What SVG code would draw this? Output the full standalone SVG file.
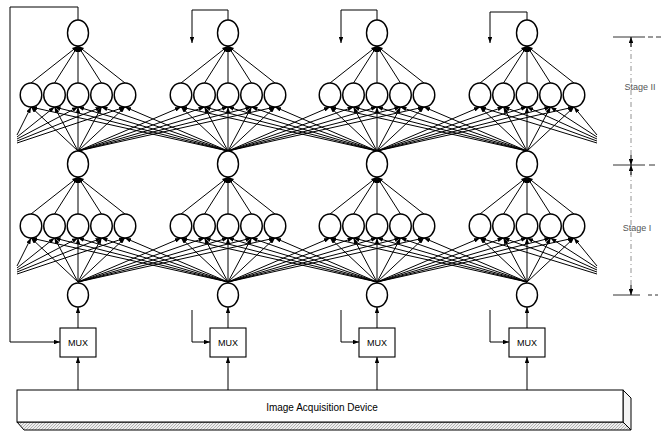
<svg xmlns="http://www.w3.org/2000/svg" xmlns:xlink="http://www.w3.org/1999/xlink" width="662" height="432" viewBox="0 0 662 432">
<style>
.c line{stroke:#000;stroke-width:1;marker-end:url(#ah);fill:none}
.n ellipse{fill:#fff;stroke:#000;stroke-width:1.4}
.fa{fill:none;stroke:#000;stroke-width:1;marker-end:url(#ah)}
.mux rect{fill:#fff;stroke:#000;stroke-width:1.1}
.t{font-family:"Liberation Sans",Arial,sans-serif;fill:#000}
.s{font-family:"Liberation Sans",Arial,sans-serif;fill:#555;font-size:9px}
.dim{stroke:#333;stroke-width:1;fill:none}
.dd{stroke:#777;stroke-width:0.8;fill:none;stroke-dasharray:5 3 1 3}
</style>
<defs>
<marker id="ah" viewBox="0 0 8 6" refX="8" refY="3" markerWidth="6" markerHeight="4.5" orient="auto" markerUnits="userSpaceOnUse"><path d="M0,0L8,3L0,6z" fill="#000"/></marker>
<pattern id="hatch" width="3" height="3" patternUnits="userSpaceOnUse"><rect width="3" height="3" fill="#eee"/><path d="M0,3L3,0" stroke="#888" stroke-width="0.6"/></pattern>
</defs>
<g id="connectors">
<g id="layer1" class="c">
<line x1="31" y1="83" x2="78" y2="46"/><line x1="54.5" y1="83" x2="78" y2="46"/><line x1="78" y1="83" x2="78" y2="46"/><line x1="101.5" y1="83" x2="78" y2="46"/><line x1="125" y1="83" x2="78" y2="46"/>
<line x1="181" y1="83" x2="228" y2="46"/><line x1="204.5" y1="83" x2="228" y2="46"/><line x1="228" y1="83" x2="228" y2="46"/><line x1="251.5" y1="83" x2="228" y2="46"/><line x1="275" y1="83" x2="228" y2="46"/>
<line x1="330" y1="83" x2="377" y2="46"/><line x1="353.5" y1="83" x2="377" y2="46"/><line x1="377" y1="83" x2="377" y2="46"/><line x1="400.5" y1="83" x2="377" y2="46"/><line x1="424" y1="83" x2="377" y2="46"/>
<line x1="480" y1="83" x2="527" y2="46"/><line x1="503.5" y1="83" x2="527" y2="46"/><line x1="527" y1="83" x2="527" y2="46"/><line x1="550.5" y1="83" x2="527" y2="46"/><line x1="574" y1="83" x2="527" y2="46"/>
<line x1="17" y1="135" x2="31" y2="107"/><line x1="17" y1="137" x2="54.5" y2="107"/><line x1="17" y1="139" x2="78" y2="107"/><line x1="17" y1="141" x2="101.5" y2="107"/><line x1="17" y1="143" x2="125" y2="107"/>
<line x1="78" y1="151" x2="31" y2="107"/><line x1="78" y1="151" x2="54.5" y2="107"/><line x1="78" y1="151" x2="78" y2="107"/><line x1="78" y1="151" x2="101.5" y2="107"/><line x1="78" y1="151" x2="125" y2="107"/>
<line x1="78" y1="151" x2="181" y2="107"/><line x1="78" y1="151" x2="204.5" y2="107"/><line x1="78" y1="151" x2="228" y2="107"/><line x1="78" y1="151" x2="251.5" y2="107"/><line x1="78" y1="151" x2="275" y2="107"/>
<line x1="228" y1="151" x2="31" y2="107"/><line x1="228" y1="151" x2="54.5" y2="107"/><line x1="228" y1="151" x2="78" y2="107"/><line x1="228" y1="151" x2="101.5" y2="107"/><line x1="228" y1="151" x2="125" y2="107"/>
<line x1="228" y1="151" x2="181" y2="107"/><line x1="228" y1="151" x2="204.5" y2="107"/><line x1="228" y1="151" x2="228" y2="107"/><line x1="228" y1="151" x2="251.5" y2="107"/><line x1="228" y1="151" x2="275" y2="107"/>
<line x1="228" y1="151" x2="330" y2="107"/><line x1="228" y1="151" x2="353.5" y2="107"/><line x1="228" y1="151" x2="377" y2="107"/><line x1="228" y1="151" x2="400.5" y2="107"/><line x1="228" y1="151" x2="424" y2="107"/>
<line x1="377" y1="151" x2="181" y2="107"/><line x1="377" y1="151" x2="204.5" y2="107"/><line x1="377" y1="151" x2="228" y2="107"/><line x1="377" y1="151" x2="251.5" y2="107"/><line x1="377" y1="151" x2="275" y2="107"/>
<line x1="377" y1="151" x2="330" y2="107"/><line x1="377" y1="151" x2="353.5" y2="107"/><line x1="377" y1="151" x2="377" y2="107"/><line x1="377" y1="151" x2="400.5" y2="107"/><line x1="377" y1="151" x2="424" y2="107"/>
<line x1="377" y1="151" x2="480" y2="107"/><line x1="377" y1="151" x2="503.5" y2="107"/><line x1="377" y1="151" x2="527" y2="107"/><line x1="377" y1="151" x2="550.5" y2="107"/><line x1="377" y1="151" x2="574" y2="107"/>
<line x1="527" y1="151" x2="330" y2="107"/><line x1="527" y1="151" x2="353.5" y2="107"/><line x1="527" y1="151" x2="377" y2="107"/><line x1="527" y1="151" x2="400.5" y2="107"/><line x1="527" y1="151" x2="424" y2="107"/>
<line x1="527" y1="151" x2="480" y2="107"/><line x1="527" y1="151" x2="503.5" y2="107"/><line x1="527" y1="151" x2="527" y2="107"/><line x1="527" y1="151" x2="550.5" y2="107"/><line x1="527" y1="151" x2="574" y2="107"/>
<line x1="597" y1="143" x2="480" y2="107"/><line x1="597" y1="141" x2="503.5" y2="107"/><line x1="597" y1="139" x2="527" y2="107"/><line x1="597" y1="137" x2="550.5" y2="107"/><line x1="597" y1="135" x2="574" y2="107"/>
</g>
<use id="layer2" xlink:href="#layer1" href="#layer1" transform="translate(0,131)"/>
<g id="feedback">
<polyline class="fa" points="78,20 78,7 10,7 10,342 60,342"/>
<polyline class="fa" points="228,20 228,10 192,10 192,43"/>
<polyline class="fa" points="192,310 192,342 210,342"/>
<polyline class="fa" points="377,20 377,10 341,10 341,43"/>
<polyline class="fa" points="341,310 341,342 359,342"/>
<polyline class="fa" points="527,20 527,12 490,12 490,43"/>
<polyline class="fa" points="490,310 490,342 509,342"/>
</g>
<g id="mux-links">
<line class="fa" x1="78" y1="328" x2="78" y2="307"/><line class="fa" x1="78" y1="390" x2="78" y2="357"/>
<line class="fa" x1="228" y1="328" x2="228" y2="307"/><line class="fa" x1="228" y1="390" x2="228" y2="357"/>
<line class="fa" x1="377" y1="328" x2="377" y2="307"/><line class="fa" x1="377" y1="390" x2="377" y2="357"/>
<line class="fa" x1="527" y1="328" x2="527" y2="307"/><line class="fa" x1="527" y1="390" x2="527" y2="357"/>
</g>
</g>
<g id="nodes" class="n">
<g id="top1"><ellipse cx="78" cy="33" rx="10.5" ry="13"/></g>
<g id="top2"><ellipse cx="228" cy="33" rx="10.5" ry="13"/></g>
<g id="top3"><ellipse cx="377" cy="33" rx="10.5" ry="13"/></g>
<g id="top4"><ellipse cx="527" cy="33" rx="10.5" ry="13"/></g>
<g id="h2c1"><ellipse cx="31" cy="95" rx="10.8" ry="12"/><ellipse cx="54.5" cy="95" rx="10.8" ry="12"/><ellipse cx="78" cy="95" rx="10.8" ry="12"/><ellipse cx="101.5" cy="95" rx="10.8" ry="12"/><ellipse cx="125" cy="95" rx="10.8" ry="12"/></g>
<g id="h2c2"><ellipse cx="181" cy="95" rx="10.8" ry="12"/><ellipse cx="204.5" cy="95" rx="10.8" ry="12"/><ellipse cx="228" cy="95" rx="10.8" ry="12"/><ellipse cx="251.5" cy="95" rx="10.8" ry="12"/><ellipse cx="275" cy="95" rx="10.8" ry="12"/></g>
<g id="h2c3"><ellipse cx="330" cy="95" rx="10.8" ry="12"/><ellipse cx="353.5" cy="95" rx="10.8" ry="12"/><ellipse cx="377" cy="95" rx="10.8" ry="12"/><ellipse cx="400.5" cy="95" rx="10.8" ry="12"/><ellipse cx="424" cy="95" rx="10.8" ry="12"/></g>
<g id="h2c4"><ellipse cx="480" cy="95" rx="10.8" ry="12"/><ellipse cx="503.5" cy="95" rx="10.8" ry="12"/><ellipse cx="527" cy="95" rx="10.8" ry="12"/><ellipse cx="550.5" cy="95" rx="10.8" ry="12"/><ellipse cx="574" cy="95" rx="10.8" ry="12"/></g>
<g id="mid1"><ellipse cx="78" cy="164" rx="10.5" ry="13"/></g>
<g id="mid2"><ellipse cx="228" cy="164" rx="10.5" ry="13"/></g>
<g id="mid3"><ellipse cx="377" cy="164" rx="10.5" ry="13"/></g>
<g id="mid4"><ellipse cx="527" cy="164" rx="10.5" ry="13"/></g>
<g id="h1c1"><ellipse cx="31" cy="226" rx="10.8" ry="12"/><ellipse cx="54.5" cy="226" rx="10.8" ry="12"/><ellipse cx="78" cy="226" rx="10.8" ry="12"/><ellipse cx="101.5" cy="226" rx="10.8" ry="12"/><ellipse cx="125" cy="226" rx="10.8" ry="12"/></g>
<g id="h1c2"><ellipse cx="181" cy="226" rx="10.8" ry="12"/><ellipse cx="204.5" cy="226" rx="10.8" ry="12"/><ellipse cx="228" cy="226" rx="10.8" ry="12"/><ellipse cx="251.5" cy="226" rx="10.8" ry="12"/><ellipse cx="275" cy="226" rx="10.8" ry="12"/></g>
<g id="h1c3"><ellipse cx="330" cy="226" rx="10.8" ry="12"/><ellipse cx="353.5" cy="226" rx="10.8" ry="12"/><ellipse cx="377" cy="226" rx="10.8" ry="12"/><ellipse cx="400.5" cy="226" rx="10.8" ry="12"/><ellipse cx="424" cy="226" rx="10.8" ry="12"/></g>
<g id="h1c4"><ellipse cx="480" cy="226" rx="10.8" ry="12"/><ellipse cx="503.5" cy="226" rx="10.8" ry="12"/><ellipse cx="527" cy="226" rx="10.8" ry="12"/><ellipse cx="550.5" cy="226" rx="10.8" ry="12"/><ellipse cx="574" cy="226" rx="10.8" ry="12"/></g>
<g id="in1"><ellipse cx="78" cy="295" rx="10.5" ry="12"/></g>
<g id="in2"><ellipse cx="228" cy="295" rx="10.5" ry="12"/></g>
<g id="in3"><ellipse cx="377" cy="295" rx="10.5" ry="12"/></g>
<g id="in4"><ellipse cx="527" cy="295" rx="10.5" ry="12"/></g>
</g>
<g id="mux1" class="mux"><rect x="60" y="328" width="36" height="29"/><text class="t" x="78" y="346" font-size="9" text-anchor="middle">MUX</text></g>
<g id="mux2" class="mux"><rect x="210" y="328" width="36" height="29"/><text class="t" x="228" y="346" font-size="9" text-anchor="middle">MUX</text></g>
<g id="mux3" class="mux"><rect x="359" y="328" width="36" height="29"/><text class="t" x="377" y="346" font-size="9" text-anchor="middle">MUX</text></g>
<g id="mux4" class="mux"><rect x="509" y="328" width="36" height="29"/><text class="t" x="527" y="346" font-size="9" text-anchor="middle">MUX</text></g>
<g id="device">
<polygon points="17,422 623,422 631,430 24,430" fill="url(#hatch)" stroke="#000" stroke-width="1"/>
<polygon points="623,390 631,398 631,430 623,422" fill="#f4f4f4" stroke="#000" stroke-width="1"/>
<rect x="17" y="390" width="606" height="32" fill="#fff" stroke="#000" stroke-width="1"/>
<text class="t" x="322" y="411" font-size="10" text-anchor="middle">Image Acquisition Device</text>
</g>
<g id="stages">
<line class="dd" x1="631" y1="42" x2="631" y2="158"/>
<line class="dd" x1="631" y1="172" x2="631" y2="290"/>
<line class="dim" x1="613" y1="37" x2="640" y2="37"/><line class="dim" x1="640" y1="37" x2="662" y2="37" stroke-dasharray="5 3"/>
<line class="dim" x1="613" y1="165" x2="645" y2="165"/><line class="dim" x1="649" y1="165" x2="655" y2="165"/>
<line class="dim" x1="613" y1="295" x2="640" y2="295"/><line class="dim" x1="648" y1="295" x2="658" y2="295" stroke-dasharray="4 3"/>
<line class="fa" x1="631" y1="47" x2="631" y2="37"/>
<line class="fa" x1="631" y1="155" x2="631" y2="165"/>
<line class="fa" x1="631" y1="175" x2="631" y2="165"/>
<line class="fa" x1="631" y1="285" x2="631" y2="295"/>
<text class="s" x="640" y="90" text-anchor="middle">Stage II</text>
<text class="s" x="637" y="231" text-anchor="middle">Stage I</text>
</g>
</svg>
